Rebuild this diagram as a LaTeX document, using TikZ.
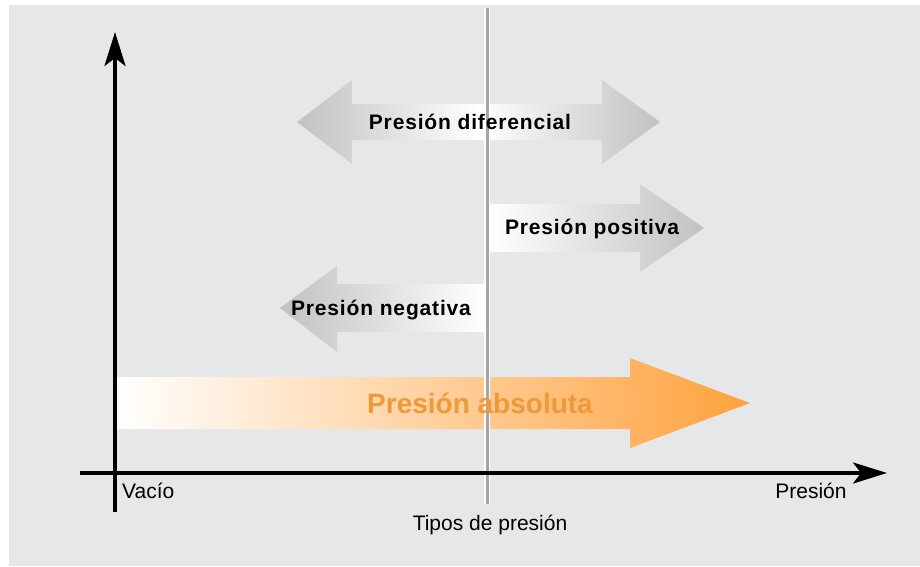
\documentclass[tikz,border=0pt]{standalone}
\usepackage{fontspec}
\setmainfont{Liberation Sans}
\newfontfamily\espaciada{Liberation Sans}[LetterSpace=4]
\usepackage{xcolor}
\usepackage{tikz}
\usetikzlibrary{arrows.meta}
\definecolor{fondo}{HTML}{E6E7E9}
\definecolor{sombra}{HTML}{BFC1C3}
\definecolor{guia}{HTML}{A3A4A6}
\definecolor{naranja}{HTML}{FFA23E}
\definecolor{naranjaclaro}{HTML}{FFC788}
\definecolor{textonaranja}{HTML}{EE993A}

\begin{document}
\begin{tikzpicture}[x=1pt,y=-1pt,
    etiq/.style={font=\espaciada\fontsize{21}{24}\selectfont\bfseries,inner sep=1pt},
    ejeetiq/.style={font=\fontsize{21}{24}\selectfont,inner sep=1pt},
    eje/.style={line width=3.2pt,-{Stealth[length=34pt,width=21pt,inset=8pt]}}]
        \fill[white] (0,0) rectangle (920,566);
        \fill[fondo] (9,5) rectangle (920,566);
        \useasboundingbox (0,0) rectangle (920,566);
        % flechas de tipos de presion
        \shade[left color=sombra,right color=sombra,middle color=white]
          (297,122) -- (352,80) -- (352,104) -- (602,104) -- (602,80) -- (660,122)
          -- (602,164) -- (602,140) -- (352,140) -- (352,164) -- cycle;
        \shade[left color=white,right color=sombra]
          (490,204) -- (640,204) -- (640,184) -- (704,228) -- (640,272)
          -- (640,252) -- (490,252) -- cycle;
        \shade[left color=sombra,right color=white]
          (485,284) -- (337,284) -- (337,266) -- (280,308) -- (337,352)
          -- (337,332) -- (485,332) -- cycle;
        \shade[left color=white,middle color=naranjaclaro,right color=naranja]
          (117,377) -- (630,377) -- (630,358) -- (750,403) -- (630,448)
          -- (630,429) -- (117,429) -- cycle;
        % linea central
        \coordinate (guiaarr) at (487,8);
        \coordinate (guiaab) at (487,504);
        \draw[white,line width=5.5pt] (guiaarr) -- (guiaab);
        \draw[guia,line width=3pt] (guiaarr) -- (guiaab);
        % ejes
        \coordinate (ejeyab) at (115,512);
        \coordinate (ejeyarr) at (115,32);
        \coordinate (ejexiz) at (80,473);
        \coordinate (ejexde) at (887,473);
        \draw[eje] (ejeyab) -- (ejeyarr);
        \draw[eje] (ejexiz) -- (ejexde);
        % textos
        \node[etiq] (dif) at (470,122) {Presión diferencial};
        \node[etiq] (pos) at (592,229) {Presión positiva};
        \node[etiq] (neg) at (381,310) {Presión negativa};
        \node[textonaranja,font=\fontsize{28}{32}\selectfont\bfseries] (abs) at (480,403) {Presión absoluta};
        \node[ejeetiq,anchor=west] (vacio) at (121,491) {Vacío};
        \node[ejeetiq] (presion) at (811,491) {Presión};
        \node[ejeetiq] (tipos) at (490,525) {Tipos de presión};
\end{tikzpicture}
\end{document}
